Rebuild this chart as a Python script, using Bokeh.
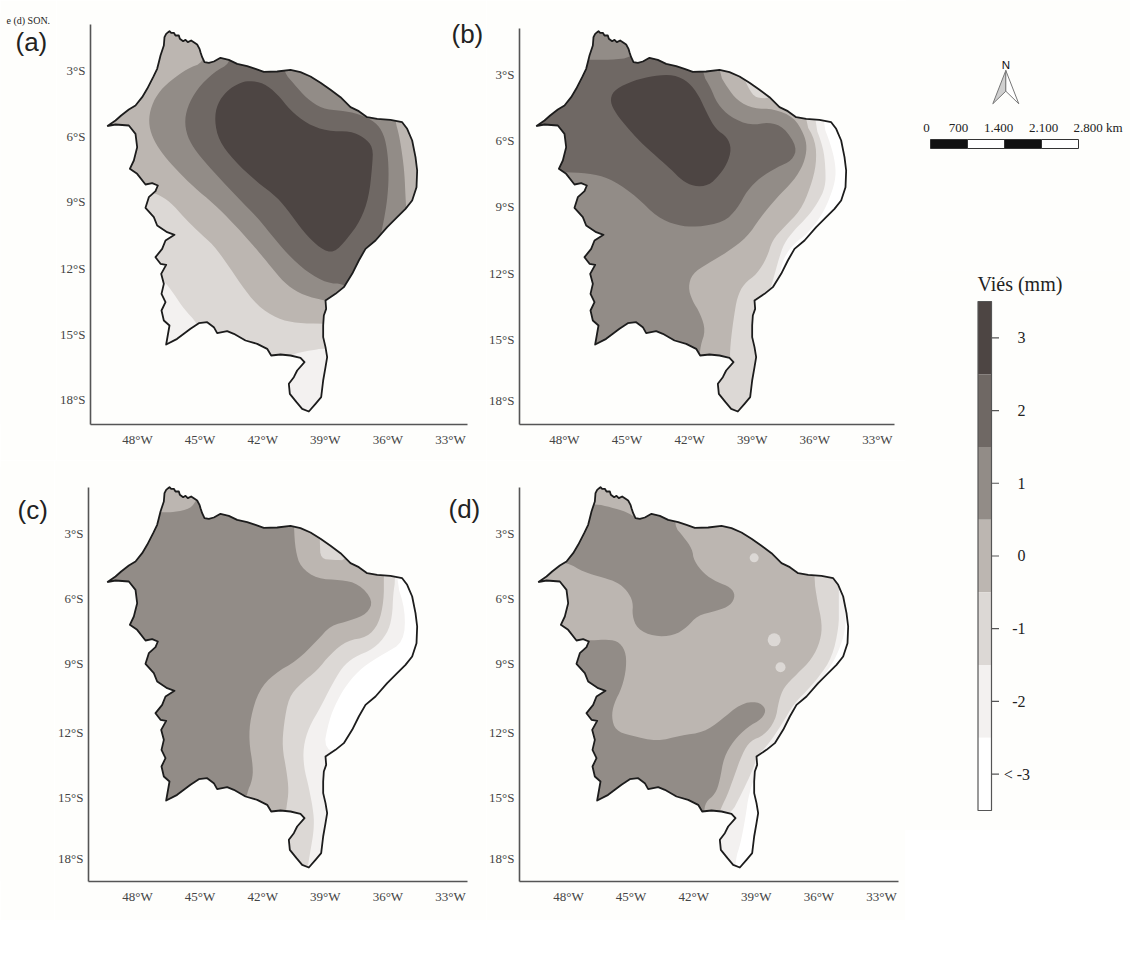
from bokeh.plotting import figure
from bokeh.layouts import row, column
from bokeh.models import Range1d, LinearAxis, FixedTicker
from bokeh.core.properties import value
from bokeh.embed import file_html
from bokeh.resources import INLINE

# ---- legend / axis content -------------------------------------------------
LEVELS = [3, 2, 1, 0, -1, -2, -3]
LEVEL_LABELS = ["3", "2", "1", "0", "-1", "-2", "< -3"]
LEVEL_COLORS = {3: "#4d4543", 2: "#6f6864", 1: "#928c87", 0: "#bcb6b1",
                -1: "#dcd8d5", -2: "#f3f1f0", -3: "#ffffff"}
SCALE_KM = [0, 700, 1400, 2100, 2800]
SCALE_LABELS = ["0", "700", "1.400", "2.100", "2.800 km"]
LON_LABELS = ["48°W", "45°W", "42°W", "39°W", "36°W", "33°W"]
LAT_LABELS = ["3°S", "6°S", "9°S", "12°S", "15°S", "18°S"]
LON_TICKS = [-48, -45, -42, -39, -36, -33]
LAT_TICKS_A = [-3, -6, -8.95, -12, -15, -17.95]
LAT_TICKS_B = [-3.18, -6.18, -9.18, -12.23, -15.23, -18.0]
LAT_TICKS_C = [-3.32, -6.27, -9.23, -12.36, -15.32, -18.09]

# ---- digitised map (reference zoom grid; see to_lonlat) ---------------------
outline = [(320,377),(345,360),(362,345),(385,327),(405,315),(425,290),(440,265),(458,230),(470,205),(475,185),(480,165),
 (490,135),(492,110),(497,100),(503,95),(507,92),(512,97),(520,97),(525,105),(535,105),(538,115),(548,122),(555,118),
 (562,125),(572,120),(580,125),(590,132),(597,145),(600,155),(605,170),(612,185),(625,187),(640,183),(660,172),(685,178),
 (710,190),(740,197),(765,205),(790,214),(830,213),(870,208),(900,215),(930,228),(960,247),(990,268),(1020,290),(1050,320),
 (1075,332),(1100,350),(1130,355),(1170,358),(1205,365),(1220,385),(1235,420),(1245,470),(1250,510),(1248,560),(1235,600),
 (1215,625),(1190,650),(1160,680),(1125,720),(1095,745),(1075,780),(1055,820),(1030,860),(1005,880),(975,900),(977,925),(970,945),
 (968,975),(968,1010),(975,1040),(980,1070),(975,1100),(968,1140),(962,1190),(945,1210),(925,1233),(905,1225),(888,1205),
 (868,1180),(865,1150),(880,1130),(890,1110),(912,1085),(900,1072),(870,1065),(840,1062),(812,1065),(800,1045),(770,1030),
 (735,1020),(700,1000),(680,992),(650,998),(640,980),(620,965),(595,968),(570,985),(530,1015),(497,1032),(507,975),(490,960),
 (483,930),(495,905),(483,880),(490,850),(482,820),(497,793),(480,790),(465,770),(485,745),(495,720),(522,703),(500,695),(470,675),(460,650),
 (435,622),(445,590),(465,572),(472,555),(455,548),(435,552),(410,520),(388,505),(400,480),(410,440),(405,400),(385,375),(345,372),(320,377)]

a_m1 = [(200,60),(1300,60),(1300,1043),(970,1043),(930,1050),(885,1058),(860,1075),(620,1075),(600,1000),(590,968),(550,925),(520,880),(490,840),(470,835),(200,835)]
a_0 = [(200,60),(1300,60),(1300,970),(968,970),(890,968),(830,955),(770,915),(720,850),(680,790),(640,735),(590,690),(550,650),(510,605),(470,580),(440,575),(200,575)]
a_1 = [(620,120),(1300,120),(1300,300),(1185,340),(1185,365),(1195,400),(1205,460),(1212,520),(1215,590),(1218,640),(1300,800),(1000,950),(985,905),(975,900),(910,885),(860,855),(820,810),(780,760),(745,720),(700,670),(640,610),(580,560),(530,510),(490,465),(460,420),(445,375),(448,330),(470,280),(510,240),(560,205),(610,185)]
a_2 = [(690,130),(845,150),(850,215),(880,250),(920,295),(965,325),(1020,330),(1075,340),(1125,365),(1150,400),(1162,460),(1165,530),(1160,600),(1150,660),(1138,715),(1150,760),(1080,860),(1040,870),(1030,850),(980,848),(920,815),(860,760),(810,700),(770,650),(710,590),(650,525),(600,470),(565,420),(552,370),(560,320),(590,265),(640,215),(690,188)]
a_3 = [(745,240),(790,248),(830,280),(870,330),(920,370),(980,392),(1050,392),(1090,410),(1118,440),(1115,500),(1105,590),(1080,660),(1040,715),(1000,758),(960,745),(910,695),(870,640),(830,590),(770,545),(700,480),(655,420),(642,360),(650,310),(680,270),(715,248)]

b_m2 = [(200,60),(1145,60),(1145,365),(1170,430),(1185,490),(1185,540),(1165,600),(1140,650),(1100,700),(1060,730),(1030,770),(1015,830),(1000,860),(985,885),(1000,1300),(200,1300)]
b_m1 = [(200,60),(1120,60),(1120,365),(1148,440),(1155,500),(1155,560),(1130,610),(1100,650),(1060,690),(1030,730),(1015,775),(1000,830),(985,880),(1000,1300),(200,1300)]
b_0 = [(200,60),(1090,60),(1090,360),(1125,420),(1128,490),(1110,560),(1080,630),(1030,680),(995,720),(980,770),(950,820),(910,850),(890,890),(880,950),(872,1010),(868,1060),(870,1085),(780,1085),(200,1200)]
b_0b = [(900,210),(925,265),(945,292),(990,294),(1000,260),(960,200)]
b_1 = [(200,60),(835,60),(835,218),(860,260),(890,300),(940,325),(1000,325),(1060,350),(1090,400),(1100,440),(1090,490),(1060,540),(1010,590),(960,650),(920,710),(860,755),(800,790),(755,820),(743,860),(755,900),(780,940),(795,990),(780,1035),(775,1090),(200,1200)]
b_2 = [(300,515),(300,178),(445,178),(510,178),(575,172),(620,100),(785,100),(785,220),(810,260),(830,310),(870,350),(930,375),(985,365),(1030,380),(1070,440),(1055,480),(1010,500),(960,530),(920,570),(890,625),(850,665),(770,680),(710,675),(650,650),(590,590),(520,540),(460,520),(385,515)]
b_3 = [(525,265),(580,240),(640,225),(700,222),(745,245),(775,285),(800,340),(825,385),(860,410),(873,445),(860,490),(835,525),(805,555),(760,558),(725,540),(690,505),(650,470),(600,425),(555,375),(520,330),(508,295)]

c_m2 = [(200,40),(1185,40),(1185,355),(1215,450),(1210,545),(1150,580),(1085,620),(1040,670),(1010,720),(985,780),(968,870),(1050,880),(1050,1300),(200,1300)]
c_m1 = [(200,40),(1185,40),(1185,355),(1178,400),(1175,470),(1160,520),(1120,565),(1060,590),(1025,620),(990,680),(960,740),(925,800),(908,860),(910,920),(925,980),(940,1060),(940,1110),(930,1170),(922,1215),(915,1300),(200,1300)]
c_0 = [(200,40),(1150,40),(1150,350),(1150,420),(1135,490),(1100,530),(1040,540),(990,580),(950,630),(900,670),(865,710),(850,790),(845,860),(858,930),(865,990),(858,1040),(850,1100),(200,1300)]
c_0b = [(958,215),(958,245),(960,295),(1000,298),(1040,300),(1040,215)]
c_1 = [(200,155),(490,155),(520,155),(570,145),(590,115),(620,80),(880,80),(880,200),(885,270),(900,320),(950,355),(1020,358),(1075,370),(1118,420),(1100,460),(1050,480),(990,495),(950,540),(890,600),(820,640),(775,690),(750,770),(745,840),(758,920),(755,960),(740,995),(730,1060),(200,1300)]

d_m2 = [(200,40),(1215,40),(1215,440),(1215,510),(1195,570),(1170,620),(1130,670),(1090,715),(1055,760),(1020,820),(985,870),(960,885),(950,930),(925,1000),(915,1070),(900,1150),(885,1195),(880,1300),(200,1300)]
d_m1 = [(200,40),(1195,40),(1195,440),(1195,500),(1175,590),(1135,650),(1095,695),(1060,730),(1025,790),(985,850),(950,885),(940,920),(915,975),(890,1025),(878,1048),(820,1100),(200,1300)]
d_0 = [(200,40),(1120,40),(1120,350),(1130,420),(1145,490),(1140,540),(1115,595),(1070,640),(1030,680),(1015,720),(1005,780),(970,825),(930,840),(905,880),(880,950),(860,1005),(845,1035),(835,1060),(200,1300)]
d_1n = [(300,130),(465,130),(510,140),(560,155),(585,172),(600,110),(710,110),(700,195),(730,230),(755,265),(760,300),(790,340),(830,365),(870,380),(885,405),(870,435),(830,450),(770,465),(740,500),(700,525),(640,528),(590,505),(575,465),(578,425),(560,390),(530,365),(490,352),(430,335),(380,305),(300,300)]
d_1s = [(300,540),(445,540),(490,537),(530,540),(555,570),(558,620),(545,680),(520,730),(513,770),(525,810),(570,825),(650,843),(720,825),(790,815),(840,780),(900,730),(950,722),(978,745),(965,775),(920,800),(880,840),(850,890),(838,960),(825,1000),(795,1025),(790,1060),(780,1100),(300,1200)]
d_spots = [(941,292,9),(1001,538,13),(1020,620,10)]

PANELS = {
    "a": dict(shift=(0, 0), layers=[(-2, None), (-1, a_m1), (0, a_0), (1, a_1), (2, a_2), (3, a_3)]),
    "b": dict(shift=(33, 0), layers=[(-3, None), (-2, b_m2), (-1, b_m1), (0, b_0), (-1, b_0b), (1, b_1), (2, b_2), (3, b_3)]),
    "c": dict(shift=(0, 12), layers=[(-3, None), (-2, c_m2), (-1, c_m1), (0, c_0), (-1, c_0b), (1, c_1)]),
    "d": dict(shift=(27, 12), layers=[(-3, None), (-2, d_m2), (-1, d_m1), (0, d_0), (1, d_1n), (1, d_1s)]),
}

BG = "#fefefc"
AXIS = "#555555"
SERIF = "Liberation Serif"
SANS = "Liberation Sans"


def to_lonlat(pts, shift=(0, 0)):
    xs = [-48 + (p[0] + shift[0] - 411) / 62.6 for p in pts]
    ys = [-3 - (p[1] + shift[1] - 210) / 66 for p in pts]
    return xs, ys


def chaikin(pts, n=2):
    for _ in range(n):
        out = []
        for i, p in enumerate(pts):
            q = pts[(i + 1) % len(pts)]
            out.append((0.75 * p[0] + 0.25 * q[0], 0.75 * p[1] + 0.25 * q[1]))
            out.append((0.25 * p[0] + 0.75 * q[0], 0.25 * p[1] + 0.75 * q[1]))
        pts = out
    return pts


def lon_at(px):
    return -48 + (px - 137) / 20.867


def lat_at(py):
    return -3 - (py - 70) / 22


def plain(w, h, xr, yr, **kw):
    p = figure(width=w, height=h, x_range=xr, y_range=yr, output_backend="svg", toolbar_location=None,
               background_fill_color=BG, border_fill_color=BG, outline_line_color=None,
               x_axis_location=None, y_axis_location=None, **kw)
    p.grid.visible = False
    return p


def panel(key, w, h, left, right, top, bottom, frame_x, axis_right, frame_y, axis_top, lat_ticks, lon_shift=0.0):
    p = plain(w, h, Range1d(lon_at(frame_x[0]), lon_at(frame_x[1])), Range1d(lat_at(frame_y[1]), lat_at(frame_y[0])),
              min_border_left=left, min_border_right=right, min_border_top=top, min_border_bottom=bottom)
    cfg = PANELS[key]
    ox, oy = to_lonlat(outline)
    for level, poly in cfg["layers"]:
        if poly is None:
            xs, ys = ox, oy
        else:
            xs, ys = to_lonlat(chaikin(poly), cfg["shift"])
        p.patch(xs, ys, fill_color=LEVEL_COLORS[level], line_color=None)
    if key == "d":
        sx, sy = to_lonlat(d_spots, cfg["shift"])
        p.scatter(sx, sy, size=[s[2] for s in d_spots], marker="circle",
                  fill_color=LEVEL_COLORS[-1], line_color=None)
    # everything outside the region is masked with the page colour
    rx, ry = [-70, -10, -10, -70], [10, 10, -40, -40]
    p.multi_polygons(xs=[[[rx, ox]]], ys=[[[ry, oy]]], fill_color=BG, line_color=None)
    p.line(ox, oy, line_color="#1c1c1c", line_width=1.8, line_join="round")

    ticks_x = [t + lon_shift for t in LON_TICKS]
    xa = LinearAxis(ticker=FixedTicker(ticks=ticks_x),
                    major_label_overrides=dict(zip(ticks_x, LON_LABELS)),
                    bounds=(lon_at(frame_x[0]), lon_at(axis_right)))
    ya = LinearAxis(ticker=FixedTicker(ticks=lat_ticks),
                    major_label_overrides=dict(zip(lat_ticks, LAT_LABELS)),
                    bounds=(lat_at(frame_y[1]), lat_at(axis_top)))
    for ax in (xa, ya):
        ax.major_tick_line_color = None
        ax.minor_tick_line_color = None
        ax.major_tick_out = 0
        ax.major_tick_in = 0
        ax.minor_tick_out = 0
        ax.minor_tick_in = 0
        ax.axis_line_color = AXIS
        ax.axis_line_width = 1.6
        ax.major_label_text_font = SERIF
        ax.major_label_text_font_size = "13px"
        ax.major_label_text_color = "#444444"
    xa.major_label_standoff = 7
    ya.major_label_standoff = 5
    p.add_layout(xa, "below")
    p.add_layout(ya, "left")
    return p


def tag(p, text, x, y):
    p.text([x], [y], text=[text], text_font=value(SANS), text_font_size="26px", text_color="#222222",
           text_baseline="alphabetic")


# panels a/b keep the map-frame grid of panel a; frames reach above and right of the axis lines
sa = plain(56, 460, Range1d(0, 56), Range1d(460, 0), min_border=0)
fa = panel("a", 430, 460, 34, 0, 12, 36, (90, 486), 467, (12, 424), 24, LAT_TICKS_A)
fb = panel("b", 419, 460, 33, 11, 12, 36, (90, 465), 465, (12, 424), 28, LAT_TICKS_B, -0.1)
sc = plain(54, 460, Range1d(0, 54), Range1d(920, 460), min_border=0)
fc = panel("c", 432, 460, 34, 0, 6, 39, (88, 486), 467, (10, 425), 31, LAT_TICKS_C)
fd = panel("d", 419, 460, 33, 7, 6, 39, (88, 467), 467, (10, 425), 31, LAT_TICKS_C)

tag(sa, "(a)", 15, 33)
tag(fa, "(b)", lon_at(451), lat_at(33))
tag(sc, "(c)", 17, 508)
tag(fc, "(d)", lon_at(448), lat_at(52))
sa.text([6], [9], text=["e (d) SON."], text_font=value(SERIF), text_font_size="10px", text_color="#222222",
        text_baseline="alphabetic")

# ---- north arrow + scale bar -----------------------------------------------
top = plain(225, 270, Range1d(905, 1130), Range1d(270, 0), min_border=0)
top.patch([1005.3, 992.3, 1005.3], [70, 103.3, 90.7], fill_color="#cfcfcf", line_color="#777777", line_width=1)
top.patch([1005.3, 1018.3, 1005.3], [70, 103.3, 90.7], fill_color="#ffffff", line_color="#777777", line_width=1)
top.text([1005.3], [64], text=["N"], text_font=value(SANS), text_font_size="11.5px", text_align="center",
         text_baseline="middle", text_color="#111111")
KM_PX = 148 / 2800
for i in range(4):
    top.quad(left=930 + SCALE_KM[i] * KM_PX, right=930 + SCALE_KM[i + 1] * KM_PX, top=139, bottom=148,
             fill_color="#111111" if i % 2 == 0 else "#ffffff", line_color="#333333", line_width=1)
top.text([926, 958, 998, 1043, 1073], [127] * 5, text=SCALE_LABELS, text_font=value(SERIF),
         text_font_size="13px", text_color="#222222", text_baseline="middle",
         text_align=["center", "center", "center", "center", "left"])

# ---- colour legend ----------------------------------------------------------
bar = plain(225, 560, Range1d(905, 1130), Range1d(-3.775, 3.926), min_border=0)
bar.quad(left=977.5, right=991, top=[v + 0.5 for v in LEVELS], bottom=[v - 0.5 for v in LEVELS],
         fill_color=[LEVEL_COLORS[v] for v in LEVELS], line_color=None)
bar.quad(left=977.5, right=991, top=3.5, bottom=-3.5, fill_color=None, line_color=AXIS, line_width=1.2)
bar.segment(x0=991, x1=998.5, y0=LEVELS, y1=LEVELS, line_color=AXIS, line_width=1.2)
bar.text([1025] * 6 + [1029.5], LEVELS, text=LEVEL_LABELS, text_font=value(SERIF), text_font_size="16px",
         text_align="right", text_baseline="middle", text_color="#222222")
bar.text([977], [3.74], text=["Viés (mm)"], text_font=value(SERIF), text_font_size="20px",
         text_baseline="middle", text_color="#222222")

layout = row(column(row(sa, fa, fb), row(sc, fc, fd)), column(top, bar))
open("out.html", "w").write(file_html(layout, INLINE))
